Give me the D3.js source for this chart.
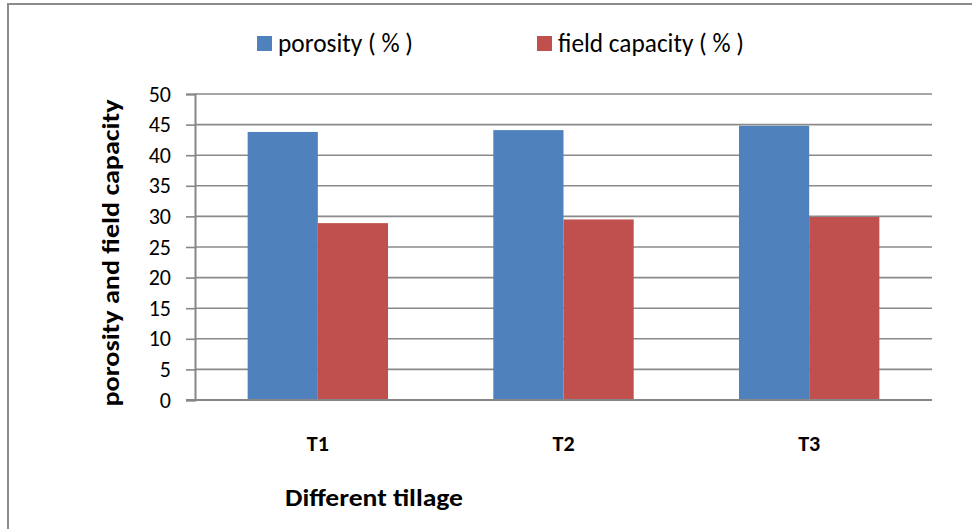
<!DOCTYPE html>
<html>
<head>
<meta charset="utf-8">
<script src="https://cdn.jsdelivr.net/npm/d3@7"></script>
<style>
  html, body { margin: 0; padding: 0; background: #fff; }
  svg { display: block; font-family: Carlito, Lato, "Open Sans", sans-serif; }
</style>
</head>
<body>
<svg id="chart" width="972" height="529"></svg>
<script>
// Tillage treatments and measured soil properties
const categories = ["T1", "T2", "T3"];
const seriesNames = ["porosity ( % )", "field capacity ( % )"];
const porosity = [43.8, 44.1, 44.8];
const fieldCapacity = [28.9, 29.5, 29.9];
const yTicks = [0, 5, 10, 15, 20, 25, 30, 35, 40, 45, 50];
const colors = ["#4F81BD", "#C0504D"];

const svg = d3.select("#chart");
const plot = { left: 195, right: 932, top: 94, bottom: 400 };

// chart frame
svg.append("rect")
  .attr("x", 8).attr("y", 4).attr("width", 1000).attr("height", 600)
  .attr("fill", "none").attr("stroke", "#8c8c8c").attr("stroke-width", 2);

const x0 = d3.scaleBand().domain(categories).range([plot.left, plot.right]).paddingInner(0).paddingOuter(0);
const x1 = d3.scaleBand().domain(seriesNames).range([0, x0.bandwidth()]).paddingInner(0).paddingOuter(0.75);
const y = d3.scaleLinear().domain([0, 50]).range([plot.bottom, plot.top]);

// horizontal gridlines
svg.append("g").selectAll("line").data(yTicks.filter(d => d > 0)).join("line")
  .attr("x1", plot.left).attr("x2", plot.right)
  .attr("y1", d => y(d)).attr("y2", d => y(d))
  .attr("stroke", "#8a8a8a").attr("stroke-width", 1.6);

// bars
const rows = categories.map((c, i) => ({ cat: c, values: [porosity[i], fieldCapacity[i]] }));
const groups = svg.append("g").selectAll("g").data(rows).join("g")
  .attr("transform", d => `translate(${x0(d.cat)},0)`);
groups.selectAll("rect").data(d => d.values.map((v, k) => ({ name: seriesNames[k], v, k }))).join("rect")
  .attr("x", d => x1(d.name))
  .attr("width", x1.bandwidth())
  .attr("y", d => y(d.v))
  .attr("height", d => y(0) - y(d.v))
  .attr("fill", d => colors[d.k]);

// y axis
const yAxis = d3.axisLeft(y).tickValues(yTicks).tickSize(9).tickPadding(15);
const gy = svg.append("g").attr("transform", `translate(${plot.left},0)`).call(yAxis);
gy.select(".domain").attr("stroke", "#868686").attr("stroke-width", 2);
gy.selectAll(".tick line").attr("stroke", "#868686").attr("stroke-width", 1.6);
gy.selectAll(".tick text").attr("font-size", 22).attr("fill", "#000")
  .attr("font-family", "Carlito, Lato, 'Open Sans', sans-serif");

// x axis
const xAxis = d3.axisBottom(x0).tickSize(0).tickPadding(35);
const gx = svg.append("g").attr("transform", `translate(0,${plot.bottom})`).call(xAxis);
gx.select(".domain").attr("stroke", "#868686").attr("stroke-width", 2)
  .attr("d", `M${plot.left - 9},0H${plot.right}`);
gx.selectAll(".tick text").attr("font-size", 22).attr("font-weight", "bold").attr("fill", "#000")
  .attr("font-family", "Carlito, Lato, 'Open Sans', sans-serif");

// fit a text element to a given width
function fit(sel, w) {
  sel.attr("textLength", w).attr("lengthAdjust", "spacingAndGlyphs");
  return sel;
}

// axis titles
fit(svg.append("text")
  .attr("transform", "translate(119,253) rotate(-90)")
  .attr("text-anchor", "middle")
  .attr("font-size", 24).attr("font-weight", "bold").attr("fill", "#000")
  .text("porosity and field capacity"), 307);

fit(svg.append("text")
  .attr("x", 285).attr("y", 506)
  .attr("font-size", 24).attr("font-weight", "bold").attr("fill", "#000")
  .text("Different tillage"), 178);

// legend
const legendX = [257, 537];
const legendW = [135, 186];
const lg = svg.append("g").selectAll("g").data(seriesNames).join("g")
  .attr("transform", (d, i) => `translate(${legendX[i]},36)`);
lg.append("rect").attr("width", 15).attr("height", 15).attr("fill", (d, i) => colors[i]);
lg.append("text").attr("x", 21).attr("y", 16)
  .attr("font-size", 27).attr("fill", "#000")
  .text(d => d)
  .each(function (d, i) { fit(d3.select(this), legendW[i]); });
</script>
</body>
</html>
